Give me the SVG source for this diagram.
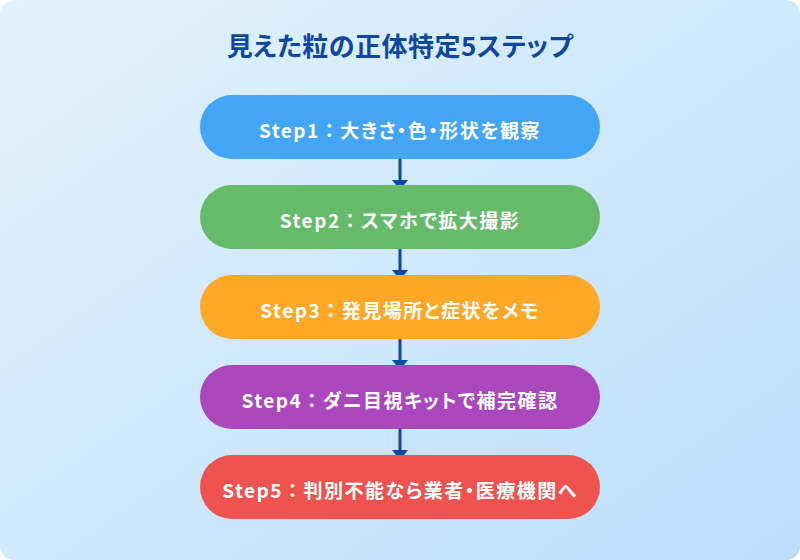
<svg xmlns="http://www.w3.org/2000/svg" width="800" height="560" viewBox="0 0 800 560">
<style>
.title{font-family:"Noto Sans CJK JP","Noto Sans",sans-serif;font-size:26px;font-weight:700;fill:#0D47A1;font-feature-settings:"palt";letter-spacing:0.5px;}
.lbl{font-family:"Noto Sans CJK JP","Noto Sans",sans-serif;font-size:19px;font-weight:700;fill:#FFFFFF;font-feature-settings:"palt";letter-spacing:1.5px;}
.col{font-feature-settings:normal;}
.conn{stroke:#0D47A1;stroke-width:3;fill:none;}
.head{fill:#0D47A1;}
</style>
<defs>
<linearGradient id="bg" x1="0" y1="0" x2="1" y2="1">
<stop offset="0" stop-color="#E3F2FD"/>
<stop offset="1" stop-color="#BBDEFB"/>
</linearGradient>
</defs>
<rect x="0" y="0" width="800" height="560" rx="14" fill="url(#bg)"/>
<text class="title" x="400" y="56" text-anchor="middle">見えた粒の正体特定5ステップ</text>
<g id="connectors">
<line class="conn" x1="400" y1="159" x2="400" y2="182"/>
<polygon class="head" points="392,180 408,180 400,190"/>
<line class="conn" x1="400" y1="249" x2="400" y2="272"/>
<polygon class="head" points="392,270 408,270 400,280"/>
<line class="conn" x1="400" y1="339" x2="400" y2="362"/>
<polygon class="head" points="392,360 408,360 400,370"/>
<line class="conn" x1="400" y1="429" x2="400" y2="452"/>
<polygon class="head" points="392,450 408,450 400,460"/>
</g>
<g id="step1">
<rect x="200" y="95" width="400" height="64" rx="32" fill="#42A5F5"/>
<text class="lbl" x="400" y="129" text-anchor="middle" dominant-baseline="central">Step1<tspan class="col">：</tspan>大きさ・色・形状を観察</text>
</g>
<g id="step2">
<rect x="200" y="185" width="400" height="64" rx="32" fill="#66BB6A"/>
<text class="lbl" x="400" y="219" text-anchor="middle" dominant-baseline="central">Step2<tspan class="col">：</tspan>スマホで拡大撮影</text>
</g>
<g id="step3">
<rect x="200" y="275" width="400" height="64" rx="32" fill="#FFA726"/>
<text class="lbl" x="400" y="309" text-anchor="middle" dominant-baseline="central">Step3<tspan class="col">：</tspan>発見場所と症状をメモ</text>
</g>
<g id="step4">
<rect x="200" y="365" width="400" height="64" rx="32" fill="#AB47BC"/>
<text class="lbl" x="400" y="399" text-anchor="middle" dominant-baseline="central">Step4<tspan class="col">：</tspan>ダニ目視キットで補完確認</text>
</g>
<g id="step5">
<rect x="200" y="455" width="400" height="64" rx="32" fill="#EF5350"/>
<text class="lbl" x="400" y="489" text-anchor="middle" dominant-baseline="central">Step5<tspan class="col">：</tspan>判別不能なら業者・医療機関へ</text>
</g>
</svg>
